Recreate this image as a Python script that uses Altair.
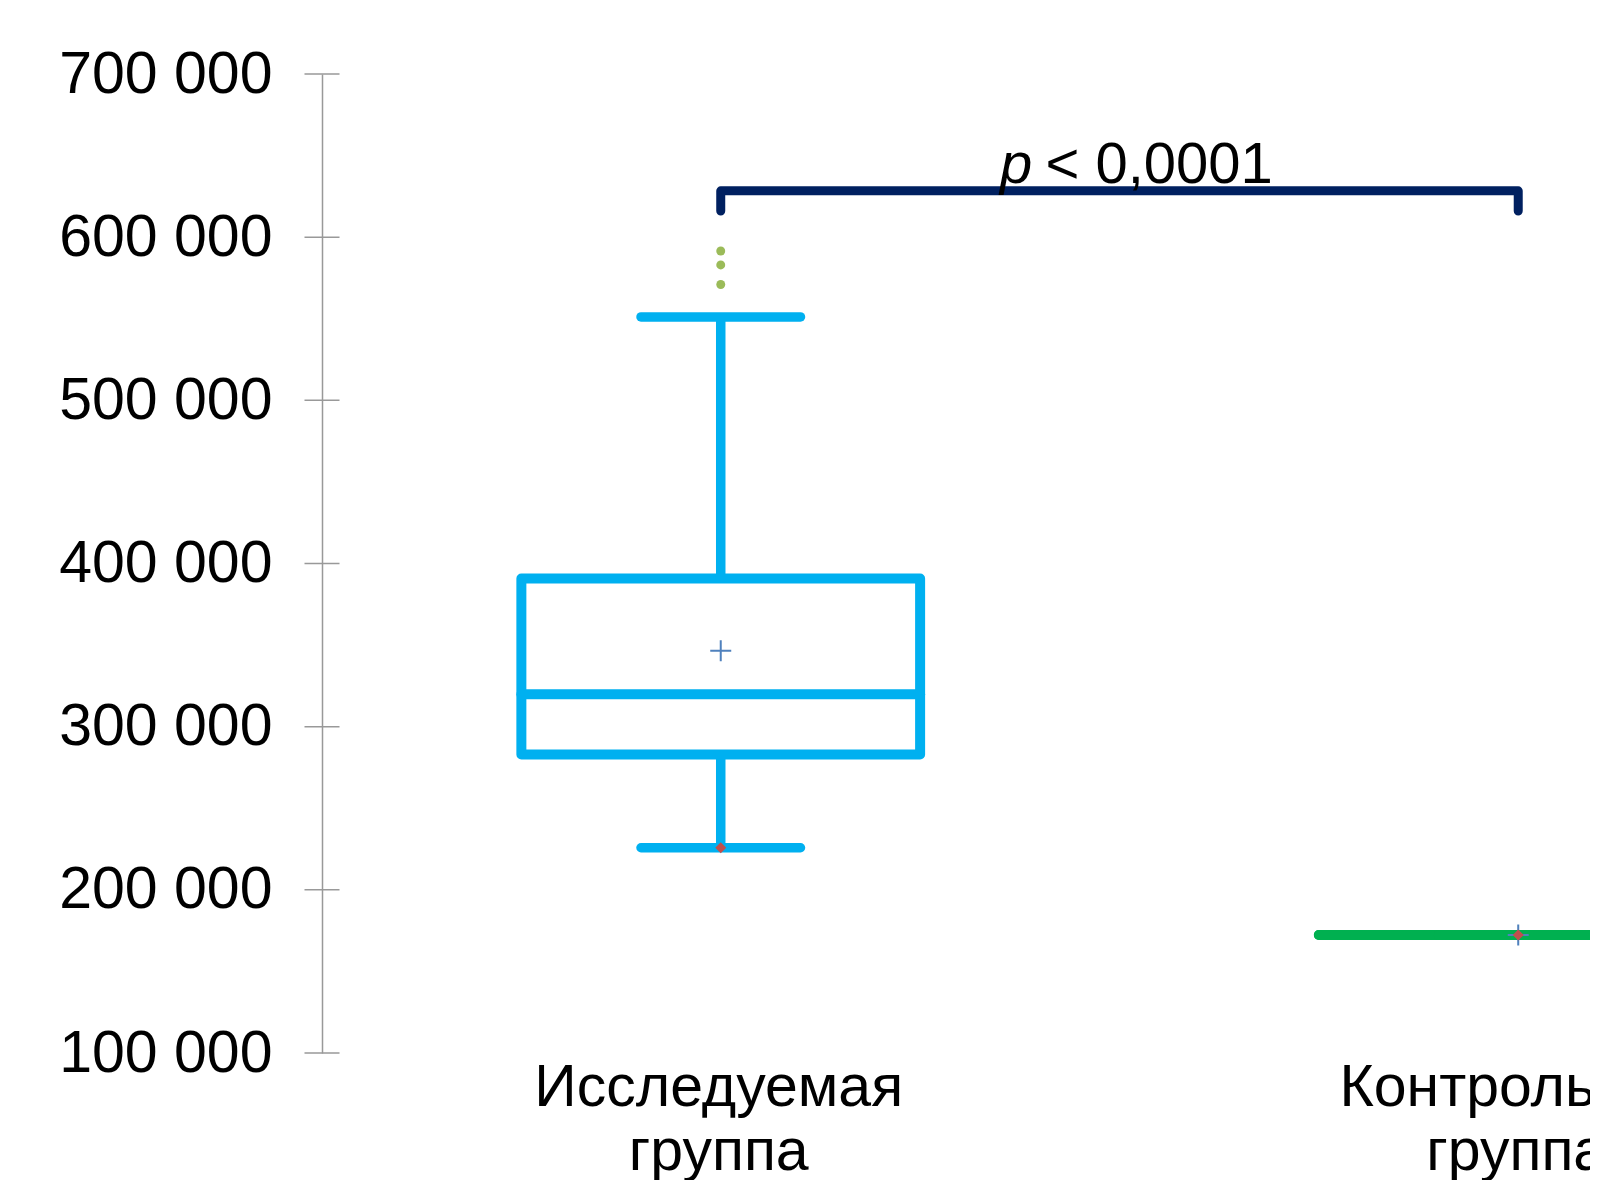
import altair as alt
import pandas as pd

FONT = "Liberation Sans"

# ---- data ----
groups = ["Исследуемая группа", "Контрольная группа"]
group_labels = ["Исследуемая\nгруппа", "Контрольная\nгруппа"]
group_pos = [1, 2]
group_colors = ["#00B0F0", "#00B050"]

q1 = [283000, 172300]
median = [319800, 172300]
q3 = [390800, 172300]
mean = [346500, 172300]
whisker_low = [225800, 172300]
whisker_high = [551100, 172300]
minimum = [225800, 172300]
axis_floor = [100000, 100000]

outlier_group_pos = [1, 1, 1]
outlier_values = [591500, 583000, 571000]

y_ticks = [100000, 200000, 300000, 400000, 500000, 600000, 700000]

bracket_pos = [1, 1, 2, 2]
bracket_values = [616000, 628400, 628400, 616000]
bracket_order = [0, 1, 2, 3]
p_symbol = "p"
p_rest = "< 0,0001"
p_anchor_pos = [1.5]
p_anchor_value = [628400]

# ---- tables ----
stats = pd.DataFrame({
    "group": groups, "label": group_labels, "pos": group_pos,
    "q1": q1, "median": median, "q3": q3, "mean": mean,
    "wlo": whisker_low, "whi": whisker_high, "min": minimum, "floor": axis_floor,
})
outliers = pd.DataFrame({"pos": outlier_group_pos, "value": outlier_values})
ticks_df = pd.DataFrame({"v": y_ticks})
bracket = pd.DataFrame({"pos": bracket_pos, "value": bracket_values, "order": bracket_order})
p_df = pd.DataFrame({"pos": p_anchor_pos, "value": p_anchor_value})

xscale = alt.Scale(domain=[0.5, 2.09], nice=False, zero=False)
yscale = alt.Scale(domain=[100000, 700000], nice=False, zero=False)
cscale = alt.Scale(domain=groups, range=group_colors)

yaxis = alt.Axis(values=y_ticks, labelExpr="replace(format(datum.value, ','), ',', ' ')",
                 ticks=False, tickSize=0, grid=False, domainColor="#999999", domainWidth=1.5,
                 labelFont=FONT, labelFontSize=59, labelColor="black", labelPadding=50,
                 labelLimit=500, title="")


def X(field):
    return alt.X(field, scale=xscale, axis=None)


def Y(field):
    return alt.Y(field, scale=yscale, axis=yaxis)


def C():
    return alt.Color("group:N", scale=cscale, legend=None)


base = alt.Chart(stats).transform_calculate(
    box_lo="datum.pos - 0.25", box_hi="datum.pos + 0.25",
    cap_lo="datum.pos - 0.1", cap_hi="datum.pos + 0.1",
)

cross_ticks = alt.Chart(ticks_df).mark_rule(color="#999999", strokeWidth=1.5).encode(
    y=Y("v:Q"), x=alt.value(-17.5), x2=alt.value(17.5),
)
box = base.mark_rect(fillOpacity=0, strokeWidth=10, strokeJoin="round").encode(
    x=X("box_lo:Q"), x2="box_hi:Q", y=Y("q1:Q"), y2="q3:Q",
    stroke=alt.Stroke("group:N", scale=cscale, legend=None),
)
med = base.mark_rule(strokeWidth=10, strokeCap="round").encode(
    x=X("box_lo:Q"), x2="box_hi:Q", y=Y("median:Q"), color=C(),
)
w_up = base.mark_rule(strokeWidth=9.5).encode(
    x=X("pos:Q"), y=Y("q3:Q"), y2="whi:Q", color=C(),
)
w_dn = base.mark_rule(strokeWidth=9.5).encode(
    x=X("pos:Q"), y=Y("wlo:Q"), y2="q1:Q", color=C(),
)
cap_up = base.mark_rule(strokeWidth=9.5, strokeCap="round").encode(
    x=X("cap_lo:Q"), x2="cap_hi:Q", y=Y("whi:Q"), color=C(),
)
cap_dn = base.mark_rule(strokeWidth=9.5, strokeCap="round").encode(
    x=X("cap_lo:Q"), x2="cap_hi:Q", y=Y("wlo:Q"), color=C(),
)
outl = alt.Chart(outliers).mark_circle(size=80, color="#9BBB59", opacity=1).encode(
    x=X("pos:Q"), y=Y("value:Q"),
)
mean_pt = base.mark_point(shape="M-1,0H1M0,-1V1", filled=False, size=441,
                          strokeWidth=2, color="#4F81BD", opacity=1).encode(
    x=X("pos:Q"), y=Y("mean:Q"),
)
min_pt = base.mark_point(shape="diamond", filled=True, size=121,
                         color="#C0504D", opacity=1).encode(
    x=X("pos:Q"), y=Y("min:Q"),
)
br = alt.Chart(bracket).mark_line(strokeWidth=9, strokeCap="round", strokeJoin="round",
                                  color="#002060").encode(
    x=X("pos:Q"), y=Y("value:Q"), order="order:Q",
)
p1 = alt.Chart(p_df).mark_text(text=p_symbol, fontStyle="italic", font=FONT, fontSize=58,
                               align="left", baseline="alphabetic", dx=-119.5, dy=-7.8,
                               color="black").encode(
    x=X("pos:Q"), y=Y("value:Q"),
)
p2 = alt.Chart(p_df).mark_text(text=p_rest, font=FONT, fontSize=58,
                               align="left", baseline="alphabetic", dx=-74, dy=-7.8,
                               color="black").encode(
    x=X("pos:Q"), y=Y("value:Q"),
)
cat_labels = base.mark_text(font=FONT, fontSize=59, lineBreak="\n", lineHeight=64,
                            align="center", baseline="alphabetic", dx=-2, dy=53,
                            color="black").encode(
    x=X("pos:Q"), y=Y("floor:Q"), text="label:N",
)

chart = alt.layer(
    cross_ticks, box, w_up, w_dn, med, cap_up, cap_dn, outl, mean_pt, min_pt,
    br, p1, p2, cat_labels,
).properties(
    width=1268, height=979,
    autosize=alt.AutoSizeParams(type="none"),
    padding={"left": 314, "top": 66, "right": 0, "bottom": 127},
).configure_view(strokeWidth=0)

chart.save("out.html", embed_options={"renderer": "svg", "actions": False})
